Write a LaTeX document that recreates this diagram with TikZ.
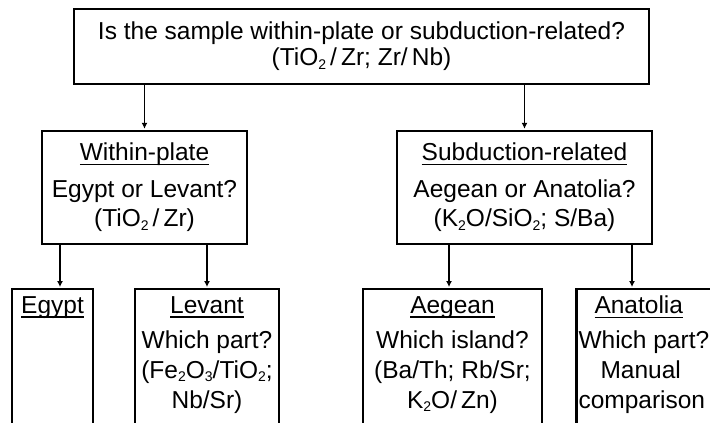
\documentclass[tikz,border=0pt]{standalone}
\usepackage{fontspec}
\setmainfont{Liberation Sans}
\usetikzlibrary{arrows.meta}

\newcommand{\undertitle}[1]{\setbox0\hbox{#1}\rlap{\rule[-4.5pt]{\wd0}{1.8pt}}\box0}
\newcommand{\chemsub}[1]{\raisebox{-3.5pt}{\fontsize{14}{14}\selectfont #1}}

\begin{document}
\begin{tikzpicture}[x=1pt, y=-1pt]
    \tikzset{box/.style={draw=black, line width=2.4pt, rectangle, inner sep=0pt, font=\fontsize{24.5}{29}\selectfont, align=center}}
    \tikzset{open box/.style={box, anchor=north}}
    \tikzset{box text/.style={anchor=north, inner sep=0pt, font=\fontsize{24.5}{30}\selectfont, align=center}}
    \tikzset{arrow/.style={-{Latex[length=6pt, width=6pt]}, line width=1.1pt, shorten >=1pt}}

    % frame
    \useasboundingbox (0,0) rectangle (710,423);
    \clip (0,0) rectangle (710,423);

    % top question
    \node (question) at (361.5,46.5) [box, minimum width=575pt, minimum height=75pt]
      {\raisebox{-3pt}{Is the sample within-plate or subduction-related?}\\(TiO\chemsub{2}\,/\,Zr; Zr/\,Nb)};

    % second level
    \node (within) at (144.5,187.5) [box, minimum width=205pt, minimum height=113pt]
      {\undertitle{Within-plate}\\[8pt]Egypt or Levant?\\(TiO\chemsub{2}\,/\,Zr)};
    \node (subduction) at (524.5,187.5) [box, minimum width=255pt, minimum height=113pt]
      {\undertitle{Subduction-related}\\[8pt]Aegean or Anatolia?\\(K\chemsub{2}O/SiO\chemsub{2}; S/Ba)};

    % third level, cut by the lower edge
    \node (egypt)    at (52.5,288)  [open box, minimum width=81pt,  minimum height=200pt] {};
    \node (levant)   at (207,288)   [open box, minimum width=144pt, minimum height=200pt] {};
    \node (aegean)   at (452.5,288) [open box, minimum width=179pt, minimum height=200pt] {};
    \node (anatolia) at (653,288)   [open box, minimum width=153pt, minimum height=200pt] {};

    % text of the third level
    \node (egypt text) at ([yshift=-8pt]egypt.north) [box text] {\undertitle{Egypt}};
    \node (levant text) at ([yshift=-8pt]levant.north) [box text]
      {\undertitle{Levant}\\[5pt]Which part?\\(Fe\chemsub{2}O\chemsub{3}/TiO\chemsub{2};\\Nb/Sr)};
    \node (aegean text) at ([yshift=-8pt]aegean.north) [box text]
      {\undertitle{Aegean}\\[5pt]Which island?\\(Ba/Th; Rb/Sr;\\K\chemsub{2}O/\,Zn)};
    \node (anatolia text) at ([xshift=3pt, yshift=-8pt]anatolia.north west) [box text, anchor=north west, align=left]
      {\hspace*{16pt}\undertitle{Anatolia}\\[5pt]Which part?\\\hspace*{22pt}Manual\\comparison};

    % connectors
    \draw[arrow] (question.south -| within.north) -- (within.north);
    \draw[arrow] (question.south -| subduction.north) -- (subduction.north);
    \draw[arrow] ([xshift=7.5pt]egypt.north |- within.south) -- ([xshift=7.5pt]egypt.north);
    \draw[arrow] (levant.north |- within.south) -- (levant.north);
    \draw[arrow] ([xshift=-3.5pt]aegean.north |- subduction.south) -- ([xshift=-3.5pt]aegean.north);
    \draw[arrow] ([xshift=-21pt]anatolia.north |- subduction.south) -- ([xshift=-21pt]anatolia.north);

\end{tikzpicture}
\end{document}
